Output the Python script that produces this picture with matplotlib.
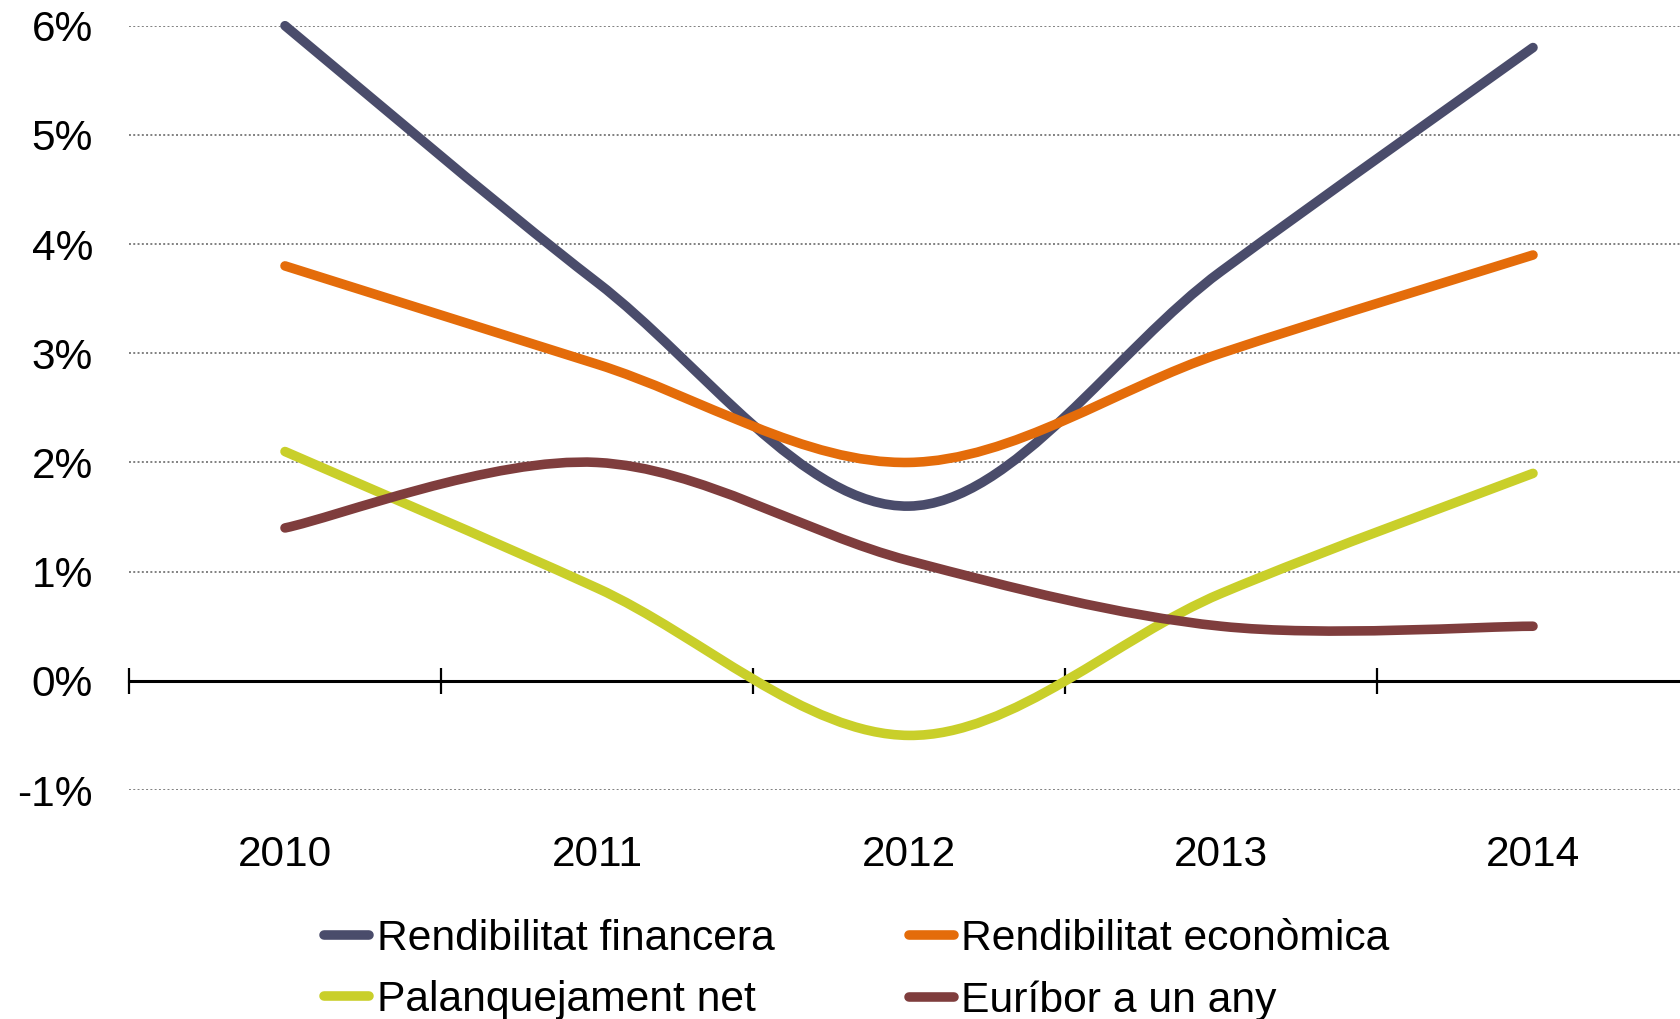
import numpy as np
import matplotlib
matplotlib.use('Agg')
import matplotlib.pyplot as plt
from matplotlib.path import Path
from matplotlib.patches import PathPatch
from matplotlib.lines import Line2D
from matplotlib.ticker import FixedLocator, FixedFormatter

# ---- data ----
years = ['2010', '2011', '2012', '2013', '2014']
rend_financera = [6.0, 3.65, 1.6, 3.75, 5.8]
rend_economica = [3.8, 2.9, 2.0, 3.0, 3.9]
palanquejament = [2.1, 0.85, -0.5, 0.8, 1.9]
euribor = [1.4, 2.0, 1.1, 0.5, 0.5]
series_labels = ['Rendibilitat financera', 'Rendibilitat econòmica',
                 'Palanquejament net', 'Euríbor a un any']
yticks = [-1, 0, 1, 2, 3, 4, 5, 6]
ytick_labels = ['-1%', '0%', '1%', '2%', '3%', '4%', '5%', '6%']

colors = ['#4a4c6b', '#e46c0a', '#c9cf2a', '#7f3d3d']

plt.rcParams['font.family'] = ['Liberation Sans', 'DejaVu Sans']

W, H = 1681, 1019
fig = plt.figure(figsize=(W / 100, H / 100), dpi=100)
ax = fig.add_axes([129 / W, 1 - 790 / H, 1560 / W, (790 - 25.7) / H])
ax.set_xlim(0, 5)
ax.set_ylim(-1, 6)


def smooth_path(xs, ys):
    """Excel-like smoothed line as cubic Bezier segments (Catmull-Rom control points)."""
    pts = np.column_stack([xs, ys]).astype(float)
    n = len(pts)
    verts = [pts[0]]
    codes = [Path.MOVETO]
    for i in range(n - 1):
        p0 = pts[max(i - 1, 0)]
        p1 = pts[i]
        p2 = pts[i + 1]
        p3 = pts[min(i + 2, n - 1)]
        c1 = p1 + (p2 - p0) / 6.0
        c2 = p2 - (p3 - p1) / 6.0
        verts += [c1, c2, p2]
        codes += [Path.CURVE4] * 3
    return Path(verts, codes)


xpos = np.arange(len(years)) + 0.5
lw = 6.9
all_series = [rend_financera, rend_economica, palanquejament, euribor]
for vals, col in zip(all_series, colors):
    patch = PathPatch(smooth_path(xpos, vals), facecolor='none', edgecolor=col,
                      lw=lw, capstyle='round', joinstyle='round', zorder=3,
                      clip_on=False)
    ax.add_patch(patch)

# grid
ax.yaxis.set_major_locator(FixedLocator(yticks))
ax.yaxis.set_major_formatter(FixedFormatter(ytick_labels))
ax.grid(axis='y', linestyle=(0, (1.0, 1.2)), color='#808080', lw=1.4, zorder=1)
ax.set_axisbelow(True)

for s in ['left', 'right', 'top']:
    ax.spines[s].set_visible(False)
ax.spines['bottom'].set_position(('data', 0))
ax.spines['bottom'].set_linewidth(2.2)
ax.spines['bottom'].set_zorder(2)

ax.xaxis.set_major_locator(FixedLocator(np.arange(0, 6)))
ax.xaxis.set_minor_locator(FixedLocator(xpos))
ax.xaxis.set_major_formatter(FixedFormatter([''] * 6))
ax.xaxis.set_minor_formatter(FixedFormatter(years))
ax.tick_params(axis='x', which='major', direction='inout', length=19, width=1.6,
               color='black')
ax.tick_params(axis='x', which='minor', length=0, pad=(837 - 680) / 1.389 - 2,
               labelsize=30.5)
ax.tick_params(axis='y', length=0, pad=26, labelsize=30.5)

handles = [Line2D([], [], color=c, lw=lw, solid_capstyle='round') for c in colors]
# column-wise fill: reorder so rows read fin/eco, palanq/euribor
order = [0, 2, 1, 3]
leg = fig.legend([handles[i] for i in order], [series_labels[i] for i in order],
                 ncol=2, loc='center',
                 bbox_to_anchor=(857 / W, 1 - 970 / H), frameon=False,
                 fontsize=30.7, handlelength=1.05, handletextpad=0.18,
                 columnspacing=3.15, labelspacing=0.5, borderpad=0)

fig.savefig('out.png', dpi=100)
